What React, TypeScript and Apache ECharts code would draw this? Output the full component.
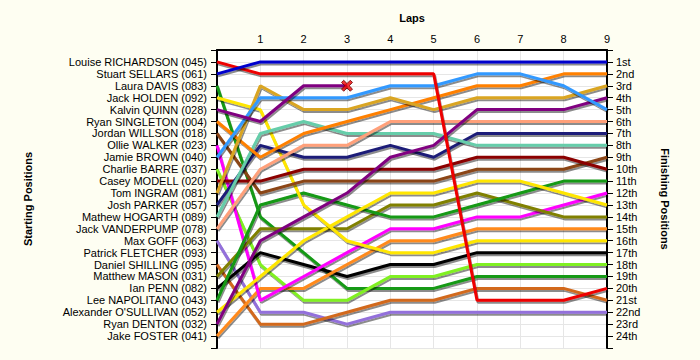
import React, { useEffect, useRef } from "react";
import * as echarts from "echarts";

const lapLabels = ["", "1", "2", "3", "4", "5", "6", "7", "8", "9"];
const startNames = [
  "Louise RICHARDSON (045)", "Stuart SELLARS (061)", "Laura DAVIS (083)", "Jack HOLDEN (092)",
  "Kalvin QUINN (028)", "Ryan SINGLETON (004)", "Jordan WILLSON (018)", "Ollie WALKER (023)",
  "Jamie BROWN (040)", "Charlie BARRE (037)", "Casey MODELL (020)", "Tom INGRAM (081)",
  "Josh PARKER (057)", "Mathew HOGARTH (089)", "Jack VANDERPUMP (078)", "Max GOFF (063)",
  "Patrick FLETCHER (093)", "Daniel SHILLING (095)", "Matthew MASON (031)", "Ian PENN (082)",
  "Lee NAPOLITANO (043)", "Alexander O'SULLIVAN (052)", "Ryan DENTON (032)", "Jake FOSTER (041)",
];
const finishLabels = [
  "1st", "2nd", "3rd", "4th", "5th", "6th", "7th", "8th", "9th", "10th", "11th", "12th",
  "13th", "14th", "15th", "16th", "17th", "18th", "19th", "20th", "21st", "22nd", "23rd", "24th",
];

// positions by lap (lap 0 = grid)
const richardson = [1, 2, 2, 2, 2, 2, 21, 21, 21, 20];
const sellars = [2, 1, 1, 1, 1, 1, 1, 1, 1, 1];
const davis = [3, 14, 17, 20, 20, 20, 19, 19, 19, 19];
const holden = [4, 5, 13, 16, 17, 17, 16, 16, 16, 16];
const quinn = [5, 6, 3, 3];
const singleton = [6, 9, 7, 6, 5, 4, 3, 3, 2, 2];
const willson = [7, 12, 11, 11, 11, 11, 10, 10, 10, 9];
const walker = [8, 21, 19, 17, 15, 15, 14, 14, 13, 12];
const brown = [9, 4, 4, 4, 3, 3, 2, 2, 3, 5];
const barre = [10, 18, 21, 21, 19, 19, 18, 18, 18, 18];
const modell = [11, 11, 10, 10, 10, 10, 9, 9, 9, 10];
const ingram = [12, 3, 5, 5, 4, 5, 4, 4, 4, 3];
const parker = [13, 8, 9, 9, 8, 9, 7, 7, 7, 7];
const hogarth = [14, 7, 6, 7, 7, 7, 8, 8, 8, 8];
const vanderpump = [15, 10, 8, 8, 6, 6, 6, 6, 6, 6];
const goff = [16, 22, 22, 23, 22, 22, 22, 22, 22, 22];
const shilling = [18, 23, 23, 22, 21, 21, 20, 20, 20, 21];
const mason = [19, 15, 15, 15, 13, 13, 12, 13, 14, 14];
const penn = [20, 17, 18, 19, 18, 18, 17, 17, 17, 17];
const napolitano = [21, 13, 12, 13, 14, 14, 13, 12, 11, 11];
const osullivan = [22, 19, 16, 14, 12, 12, 11, 11, 12, 13];
const denton = [23, 16, 14, 12, 9, 8, 5, 5, 5, 4];
const foster = [24, 20, 20, 18, 16, 16, 15, 15, 15, 15];

const drivers: [string, number[], string][] = [
  ["Max GOFF", goff, "#9370DB"],
  ["Daniel SHILLING", shilling, "#D2691E"],
  ["Laura DAVIS", davis, "#139913"],
  ["Charlie BARRE", barre, "#80F020"],
  ["Ian PENN", penn, "#000000"],
  ["Jake FOSTER", foster, "#FF8A1C"],
  ["Ollie WALKER", walker, "#FF00FF"],
  ["Matthew MASON", mason, "#808000"],
  ["Lee NAPOLITANO", napolitano, "#139913"],
  ["Alexander O'SULLIVAN", osullivan, "#FFE600"],
  ["Jack HOLDEN", holden, "#FFE600"],
  ["Jordan WILLSON", willson, "#8B4513"],
  ["Casey MODELL", modell, "#8B0000"],
  ["Josh PARKER", parker, "#1E1E78"],
  ["Mathew HOGARTH", hogarth, "#66CDAA"],
  ["Jack VANDERPUMP", vanderpump, "#FFA07A"],
  ["Ryan DENTON", denton, "#800080"],
  ["Ryan SINGLETON", singleton, "#FF8000"],
  ["Tom INGRAM", ingram, "#DAA520"],
  ["Jamie BROWN", brown, "#3399FF"],
  ["Kalvin QUINN", quinn, "#800080"],
  ["Louise RICHARDSON", richardson, "#EE0000"],
  ["Stuart SELLARS", sellars, "#0000CC"],
];

const retiredLap = 3;
const retiredPos = quinn[quinn.length - 1];

const FONT = "'Liberation Sans', Arial, sans-serif";

export default function App() {
  const ref = useRef<HTMLDivElement>(null);
  useEffect(() => {
    if (!ref.current) return;
    const chart = echarts.init(ref.current, undefined, { renderer: "svg" });
    const series: any[] = drivers.map(([name, pos, color]) => ({
      type: "line",
      name,
      xAxisIndex: 0,
      yAxisIndex: 0,
      data: pos.map((p, i) => [i, p]),
      symbol: "none",
      lineStyle: {
        color,
        width: 3,
        shadowColor: "rgba(0,0,0,0.45)",
        shadowBlur: 1,
        shadowOffsetX: 1,
        shadowOffsetY: 2,
      },
      z: 3,
    }));
    series.push({
      type: "scatter",
      data: [[retiredLap, retiredPos]],
      symbol:
        "path://M2,0 L5,3 L8,0 L10,2 L7,5 L10,8 L8,10 L5,7 L2,10 L0,8 L3,5 L0,2 Z",
      symbolSize: 11,
      itemStyle: { color: "#EE0000", borderColor: "#660000", borderWidth: 1 },
      z: 5,
    });
    const yCommon = {
      type: "value",
      min: 0,
      max: 25,
      interval: 1,
      inverse: true,
      axisLine: { show: true, lineStyle: { color: "#000", width: 2 } },
      axisTick: { show: true, length: 6, lineStyle: { color: "#000", width: 1 } },
    };
    chart.setOption({
      animation: false,
      backgroundColor: "#FEFEF2",
      grid: {
        left: 217,
        top: 50,
        width: 390,
        height: 298,
        show: true,
        backgroundColor: "#FFFFFF",
        borderWidth: 0,
      },
      xAxis: {
        type: "value",
        position: "top",
        min: 0,
        max: 9,
        interval: 1,
        axisLine: { show: true, onZero: false, lineStyle: { color: "#000", width: 2 } },
        axisTick: { show: false },
        axisLabel: {
          margin: 6,
          fontFamily: FONT,
          fontSize: 11,
          color: "#000",
          formatter: (v: number) => lapLabels[v] ?? "",
        },
        splitLine: { show: true, lineStyle: { color: "#E6E6E6", width: 1 } },
      },
      yAxis: [
        {
          ...yCommon,
          position: "left",
          axisLabel: {
            margin: 10,
            fontFamily: FONT,
            fontSize: 11,
            color: "#000",
            formatter: (v: number) => startNames[v - 1] ?? "",
          },
          splitLine: { show: true, lineStyle: { color: "#E6E6E6", width: 1 } },
        },
        {
          ...yCommon,
          position: "right",
          axisLabel: {
            margin: 9,
            fontFamily: FONT,
            fontSize: 11,
            color: "#000",
            formatter: (v: number) => finishLabels[v - 1] ?? "",
          },
          splitLine: { show: false },
        },
      ],
      graphic: [
        {
          type: "text",
          x: 412,
          y: 18,
          style: {
            text: "Laps",
            font: `bold 11px ${FONT}`,
            fill: "#000",
            align: "center",
            verticalAlign: "middle",
          },
        },
        {
          type: "text",
          x: 28,
          y: 199,
          rotation: Math.PI / 2,
          style: {
            text: "Starting Positions",
            font: `bold 11px ${FONT}`,
            fill: "#000",
            align: "center",
            verticalAlign: "middle",
          },
        },
        {
          type: "text",
          x: 665,
          y: 199,
          rotation: -Math.PI / 2,
          style: {
            text: "Finishing Positions",
            font: `bold 11px ${FONT}`,
            fill: "#000",
            align: "center",
            verticalAlign: "middle",
          },
        },
      ],
      series,
    });
    return () => chart.dispose();
  }, []);
  return (
    <div
      ref={ref}
      style={{ position: "fixed", left: 0, top: 0, width: 700, height: 360 }}
    />
  );
}
